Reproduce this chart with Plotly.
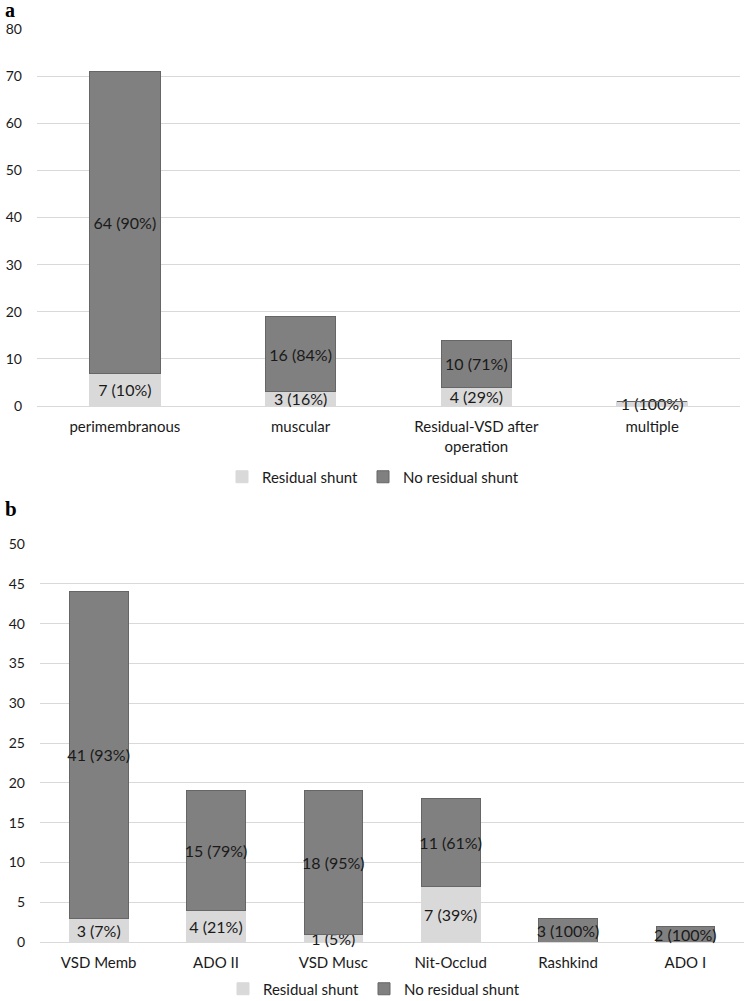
import plotly.graph_objects as go

# Panel a
cats_a = ["perimembranous", "muscular", "Residual-VSD after<br>operation", "multiple"]
res_a = [7, 3, 4, 1]
nores_a = [64, 16, 10, 0]
res_a_lbl = ["7 (10%)", "3 (16%)", "4 (29%)", "1 (100%)"]
nores_a_lbl = ["64 (90%)", "16 (84%)", "10 (71%)", ""]

# Panel b
cats_b = ["VSD Memb", "ADO II", "VSD Musc", "Nit-Occlud", "Rashkind", "ADO I"]
res_b = [3, 4, 1, 7, 0, 0]
nores_b = [41, 15, 18, 11, 3, 2]
res_b_lbl = ["3 (7%)", "4 (21%)", "1 (5%)", "7 (39%)", "", ""]
nores_b_lbl = ["41 (93%)", "15 (79%)", "18 (95%)", "11 (61%)", "3 (100%)", "2 (100%)"]

LIGHT = "#d9d9d9"
DARK = "#808080"
FONT = "Lato"
TXT = "#1a1a1a"

W = 749.0
H = 1001.0


def fx(px):
    return px / W


def fy(py):
    return (H - py) / H


fig = go.Figure()

common = dict(textposition="inside", insidetextanchor="middle", textangle=0,
              constraintext="none", cliponaxis=False,
              textfont=dict(family=FONT, size=16, color=TXT))

fig.add_trace(go.Bar(x=cats_a, y=res_a, text=res_a_lbl, name="Residual shunt",
                     marker=dict(color=LIGHT, line=dict(color=LIGHT, width=1)),
                     width=0.4, xaxis="x", yaxis="y", legend="legend", **common))
fig.add_trace(go.Bar(x=cats_a, y=nores_a, text=nores_a_lbl, name="No residual shunt",
                     marker=dict(color=DARK, line=dict(color="#666666", width=1)),
                     width=0.4, xaxis="x", yaxis="y", legend="legend", **common))
fig.add_trace(go.Bar(x=cats_b, y=res_b, text=res_b_lbl, name="Residual shunt",
                     marker=dict(color=LIGHT, line=dict(color=LIGHT, width=1)),
                     width=0.5, xaxis="x2", yaxis="y2", legend="legend2", **common))
fig.add_trace(go.Bar(x=cats_b, y=nores_b, text=nores_b_lbl, name="No residual shunt",
                     marker=dict(color=DARK, line=dict(color="#666666", width=1)),
                     width=0.5, xaxis="x2", yaxis="y2", legend="legend2", **common))

axfont = dict(family=FONT, size=15, color=TXT)
yfont = dict(family=FONT, size=14, color=TXT)

fig.update_layout(
    width=int(W), height=int(H),
    margin=dict(l=0, r=0, t=0, b=0, autoexpand=False),
    paper_bgcolor="white", plot_bgcolor="white",
    barmode="stack",
    showlegend=True,
    xaxis=dict(domain=[fx(37), fx(740)], anchor="y", showgrid=False, showline=False,
               tickfont=axfont, ticks="", zeroline=False, ticklabelstandoff=10),
    yaxis=dict(domain=[fy(406), fy(29)], anchor="x", range=[0, 80],
               dtick=10, showgrid=True, gridcolor="#d9d9d9", gridwidth=1,
               zeroline=True, zerolinecolor="#d9d9d9", zerolinewidth=1,
               tickfont=yfont, ticks="", ticklabelstandoff=14, showline=False),
    xaxis2=dict(domain=[fx(40), fx(744)], anchor="y2", showgrid=False, showline=False,
                tickfont=axfont, ticks="", zeroline=False, ticklabelstandoff=10),
    yaxis2=dict(domain=[fy(942), fy(544)], anchor="x2", range=[0, 50],
                dtick=5, showgrid=True, gridcolor="#d9d9d9", gridwidth=1,
                zeroline=True, zerolinecolor="#d9d9d9", zerolinewidth=1,
                tickfont=yfont, ticks="", ticklabelstandoff=14, showline=False),
    legend=dict(orientation="h", traceorder="normal", x=fx(373), xanchor="center",
                y=fy(477), yanchor="middle", itemwidth=30,
                font=dict(family=FONT, size=15, color=TXT), bgcolor="rgba(0,0,0,0)"),
    legend2=dict(orientation="h", traceorder="normal", x=fx(374), xanchor="center",
                 y=fy(989), yanchor="middle", itemwidth=30,
                 font=dict(family=FONT, size=15, color=TXT), bgcolor="rgba(0,0,0,0)"),
    annotations=[
        dict(text="<b>a</b>", x=fx(3), y=fy(10), xref="paper", yref="paper",
             xanchor="left", yanchor="middle", showarrow=False,
             font=dict(family="Liberation Serif", size=20, color="black")),
        dict(text="<b>b</b>", x=fx(3), y=fy(509), xref="paper", yref="paper",
             xanchor="left", yanchor="middle", showarrow=False,
             font=dict(family="Liberation Serif", size=21, color="black")),
    ],
)

fig.write_html("out.html", config={"displayModeBar": False},
               post_script="document.body.style.margin='0px';")
